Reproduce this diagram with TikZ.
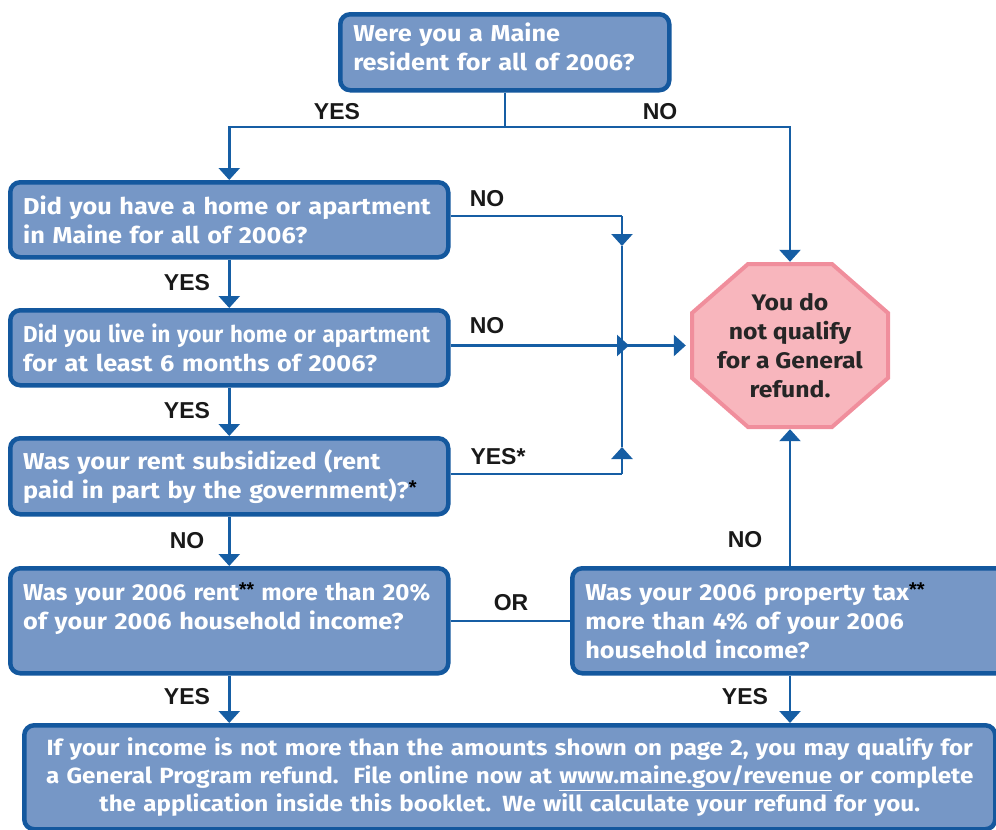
\documentclass[tikz,border=0pt]{standalone}
\usepackage{graphicx}
\usepackage{fontspec}
\setmainfont{Fira Sans}
\newfontfamily\labfont{Liberation Sans}
\newfontfamily\boxfont{Fira Sans}[FakeStretch=1.1]
\usetikzlibrary{arrows.meta}
\definecolor{boxfill}{RGB}{118,151,198}
\definecolor{boxedge}{RGB}{20,88,158}
\definecolor{linec}{RGB}{22,94,164}
\definecolor{pinkfill}{RGB}{248,182,189}
\definecolor{pinkedge}{RGB}{240,142,156}
\newcommand\blk[1]{{\color{black}\labfont\bfseries\fontsize{20}{20}\selectfont\raisebox{4pt}{#1}}}
\newcommand\oneline[1]{\mbox{#1}}
\newcommand\fitline[2]{\resizebox{#1}{\height}{#2}}
\tikzset{
  qbox/.style={draw=boxedge, line width=4.5pt, fill=boxfill, rounded corners=10pt,
    anchor=north west, align=left, text=white, inner xsep=13pt, inner ysep=0pt,
    font=\boxfont\bfseries\fontsize{23}{29}\selectfont},
  conn/.style={draw=linec, line width=2.5pt},
  tri/.tip={Triangle[width=21pt,length=12pt]},
  arr/.style={conn, -{tri}},
  lab/.style={font=\labfont\bfseries\fontsize{23}{23}\selectfont, text=black!90, inner sep=0pt}
}
\begin{document}
\begin{tikzpicture}[x=1pt,y=-1pt]
\useasboundingbox (0,0) rectangle (996,830);
% boxes
\node[qbox, minimum width=329pt, minimum height=76pt, text width=303pt, text depth=41pt] (b1) at (338,12)
  {\oneline{Were you a Maine}\\\oneline{resident for all of 2006?}};
\node[qbox, minimum width=438pt, minimum height=75pt, text width=412pt] (b2) at (8,180)
  {\oneline{Did you have a home or apartment}\\\oneline{in Maine for all of 2006?}};
\node[qbox, minimum width=438pt, minimum height=75pt, text width=412pt] (b3) at (8,308)
  {\fitline{407pt}{Did you live in your home or apartment}\\\oneline{for at least 6 months of 2006?}};
\node[qbox, minimum width=438pt, minimum height=76pt, text width=412pt] (b4) at (8,436)
  {\oneline{Was your rent subsidized (rent}\\\oneline{paid in part by the government)?\blk{*}}};
\node[qbox, minimum width=438pt, minimum height=105pt, text width=412pt] (b5) at (8,566)
  {\fitline{407pt}{Was your 2006 rent\blk{**} more than 20\%}\\\oneline{of your 2006 household income?}\\~};
\node[qbox, minimum width=440pt, minimum height=105pt, text width=414pt] (b6) at (570,566)
  {\oneline{Was your 2006 property tax\blk{**}}\\\oneline{more than 4\% of your 2006}\\\oneline{household income?}};
\node[qbox, minimum width=969pt, minimum height=104pt, text width=945pt, align=center,
  font=\boxfont\bfseries\fontsize{22}{28}\selectfont] (b7) at (22,723)
  {\oneline{If your income is not more than the amounts shown on page 2, you may qualify for}\\
   \oneline{a General Program refund.\ \ File online now at \underline{www.maine.gov/revenue} or complete}\\
   \oneline{the application inside this booklet. We will calculate your refund for you.}};
% octagon
\draw[fill=pinkfill, draw=pinkedge, line width=4pt, line join=miter]
  (748,264) -- (832,264) -- (888,313) -- (888,378) -- (832,427) -- (748,427) -- (692,378) -- (692,313) -- cycle;
\node[minimum width=196pt, minimum height=163pt, inner sep=0pt, align=center, text=black!85,
  font=\boxfont\bfseries\fontsize{22.5}{29}\selectfont] (oct) at (790,345.5)
  {You do\\not qualify\\for a General\\refund.};
% junction coordinates
\coordinate (jrow) at (0,127);
\coordinate (jt) at (b1.south |- jrow);
\coordinate (j1) at (622,216);
\coordinate (jd) at (622,246);
\coordinate (jm) at (629,345.5);
\coordinate (jc) at (622,345.5);
\coordinate (ju) at (622,447);
\coordinate (j5) at (622,474);
% connectors
\draw[conn] (b1.south) -- (jt);
\draw[arr] (jt) -| (b2.north);
\draw[arr, shorten >=2pt] (jt) -| (oct.north);
\draw[arr] (b2.south) -- (b3.north);
\draw[arr] (b3.south) -- (b4.north);
\draw[arr] (b4.south) -- (b5.north);
\draw[arr] (b5.south) -- (b5.south |- b7.north);
\draw[arr] (b6.south -| oct.south) -- (b7.north -| oct.south);
\draw[arr, shorten >=2pt] (b6.north -| oct.south) -- (oct.south);
\draw[conn] (b5.east) -- (b6.west |- b5.east);
\draw[conn] (b2.east |- j1) -- (j1);
\draw[arr] (j1) -- (jd);
\draw[conn] (jd) -- (ju);
\draw[arr] (j5) -- (ju);
\draw[conn] (b4.east |- j5) -- (j5);
\draw[arr] (b3.east |- jm) -- (jm);
\draw[arr, shorten >=6pt] (jc) -- (oct.west |- jc);
% labels
\node[lab] (l1) at (337,112) {YES};
\node[lab] (l2) at (660,112) {NO};
\node[lab] (l3) at (487,199) {NO};
\node[lab] (l4) at (487,326) {NO};
\node[lab] (l5) at (498,457) {YES*};
\node[lab] (l6) at (187,283) {YES};
\node[lab] (l7) at (187,411) {YES};
\node[lab] (l8) at (187,541) {NO};
\node[lab] (l9) at (187,697) {YES};
\node[lab] (l10) at (511,603) {OR};
\node[lab] (l11) at (745,540) {NO};
\node[lab] (l12) at (745,697) {YES};
\end{tikzpicture}
\end{document}
